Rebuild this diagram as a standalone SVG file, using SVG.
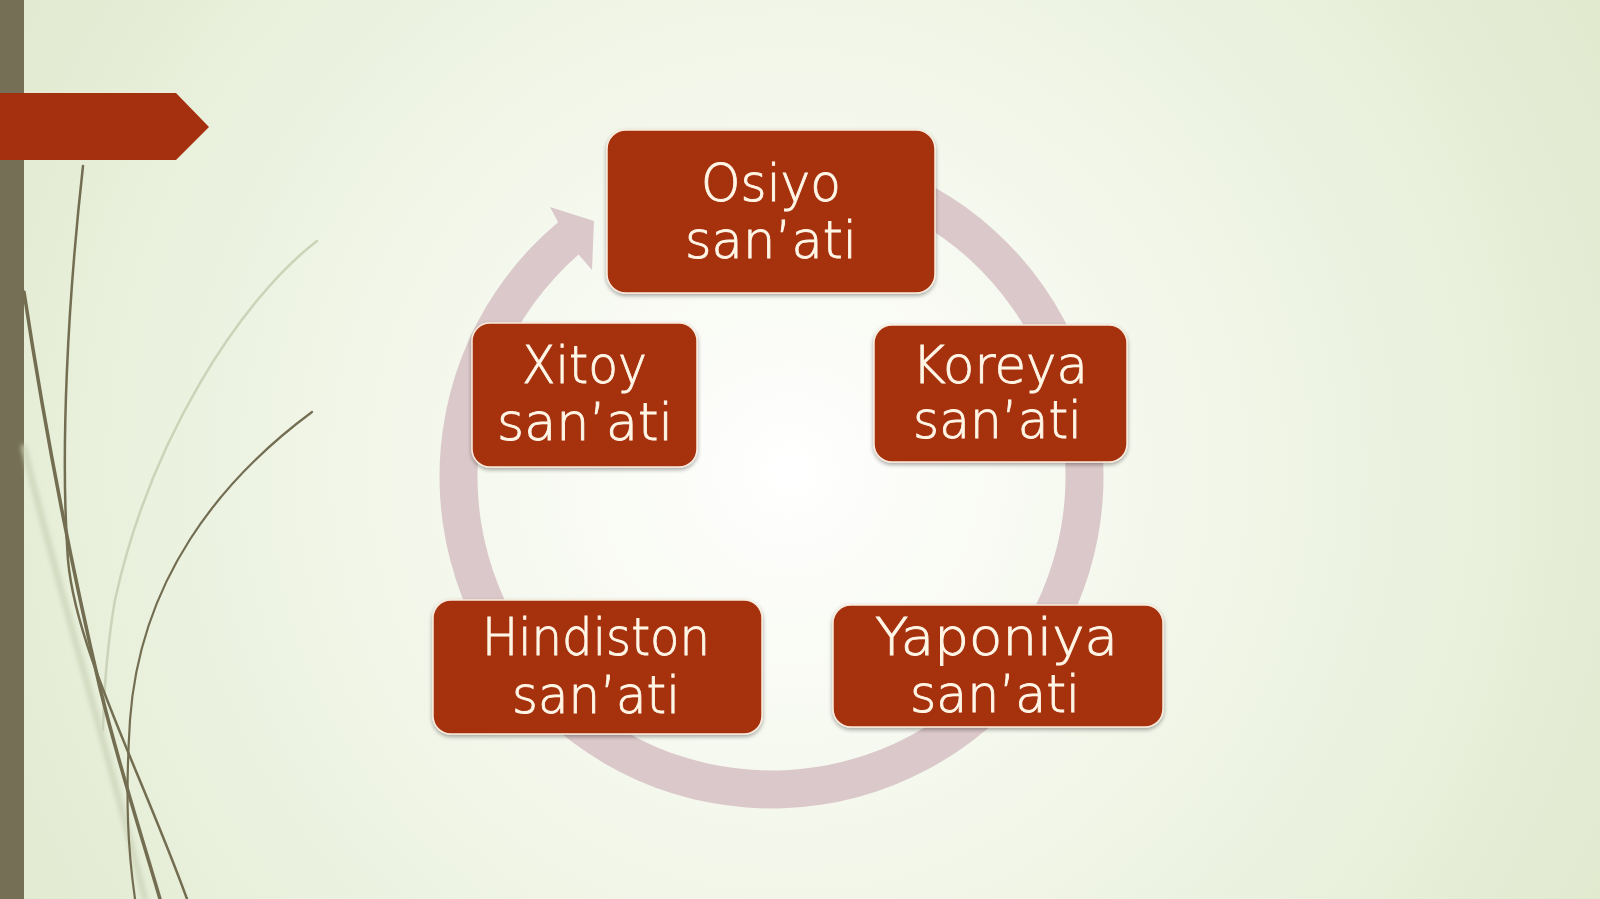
<svg xmlns="http://www.w3.org/2000/svg" width="1600" height="899" viewBox="0 0 1600 899">
<defs>
  <radialGradient id="bg" gradientUnits="userSpaceOnUse" cx="790" cy="470" r="980">
    <stop offset="0" stop-color="#FFFFFF"/>
    <stop offset="0.3" stop-color="#F6F9EF"/>
    <stop offset="0.7" stop-color="#E9F0DC"/>
    <stop offset="1" stop-color="#DFE7CB"/>
  </radialGradient>
  <filter id="soft" x="-20%" y="-20%" width="140%" height="140%">
    <feGaussianBlur stdDeviation="2.5"/>
  </filter>
  <filter id="shadow" x="-10%" y="-10%" width="120%" height="130%">
    <feGaussianBlur in="SourceAlpha" stdDeviation="2"/>
    <feOffset dy="2" result="b"/>
    <feComponentTransfer><feFuncA type="linear" slope="0.35"/></feComponentTransfer>
    <feMerge><feMergeNode/><feMergeNode in="SourceGraphic"/></feMerge>
  </filter>
</defs>
<style>
  .box { fill: #A53010; stroke: #FBEBDC; stroke-width: 1.5; }
  .lbl { font-family: "DejaVu Sans", "Liberation Sans", sans-serif; font-weight: 200; font-size: 52px; fill: #FFF6E6; stroke: #FFF6E6; stroke-width: 0.9; text-anchor: middle; }
  .dark { fill: none; stroke: #736D51; stroke-linecap: round; }
  .faint { fill: none; stroke: #CCD3B8; stroke-linecap: round; }
</style>

<rect x="0" y="0" width="1600" height="899" fill="url(#bg)"/>

<g id="decor">
  <rect x="0" y="0" width="24" height="899" fill="#756F55"/>
  <path class="faint" d="M24,447 C50,560 100,720 145,899" stroke-width="5" filter="url(#soft)"/>
  <path class="faint" d="M317,241 C240,300 150,440 115,600 C108,640 104,690 103,730" stroke-width="2.5"/>
  <path class="dark" d="M24,292 C45,430 70,560 100,688 C120,770 140,830 160,899" stroke-width="3.5"/>
  <path class="dark" d="M83,166 C68,300 60,450 68,560 C76,650 140,770 187,899" stroke-width="2.5"/>
  <path class="dark" d="M312,412 C220,480 140,580 130,720 C125,800 128,850 135,899" stroke-width="2.2"/>
  <polygon points="0,93 176,93 209,127 176,160 0,160" fill="#A5300F"/>
</g>

<g id="connectors">
  <path d="M829.15,149.54 A332,332 0 1 1 558.09,222.17 L550,207 L594,221 L592,270 L578.62,254.62 A294,294 0 1 0 822.55,186.97 Z" fill="#DBC8CA"/>
</g>

<g id="node-osiyo" filter="url(#shadow)">
  <rect class="box" x="607" y="130" width="328" height="163" rx="19"/>
  <text class="lbl" x="771" y="201" textLength="140" lengthAdjust="spacingAndGlyphs">Osiyo</text>
  <text class="lbl" x="771" y="258" textLength="172" lengthAdjust="spacingAndGlyphs">san’ati</text>
</g>

<g id="node-xitoy" filter="url(#shadow)">
  <rect class="box" x="472" y="323" width="225" height="144" rx="18"/>
  <text class="lbl" x="584.5" y="383" textLength="125" lengthAdjust="spacingAndGlyphs">Xitoy</text>
  <text class="lbl" x="585" y="440" textLength="176" lengthAdjust="spacingAndGlyphs">san’ati</text>
</g>

<g id="node-koreya" filter="url(#shadow)">
  <rect class="box" x="874" y="325" width="253" height="137" rx="18"/>
  <text class="lbl" x="1000" y="383" textLength="176" lengthAdjust="spacingAndGlyphs">Koreya</text>
  <text class="lbl" x="997.5" y="438" textLength="169" lengthAdjust="spacingAndGlyphs">san’ati</text>
</g>

<g id="node-hindiston" filter="url(#shadow)">
  <rect class="box" x="433" y="600" width="329" height="134" rx="18"/>
  <text class="lbl" x="596" y="655" textLength="228" lengthAdjust="spacingAndGlyphs">Hindiston</text>
  <text class="lbl" x="596" y="713" textLength="168" lengthAdjust="spacingAndGlyphs">san’ati</text>
</g>

<g id="node-yaponiya" filter="url(#shadow)">
  <rect class="box" x="833" y="605" width="330" height="122" rx="18"/>
  <text class="lbl" x="996.5" y="655" textLength="243" lengthAdjust="spacingAndGlyphs">Yaponiya</text>
  <text class="lbl" x="995" y="712" textLength="170" lengthAdjust="spacingAndGlyphs">san’ati</text>
</g>
</svg>
